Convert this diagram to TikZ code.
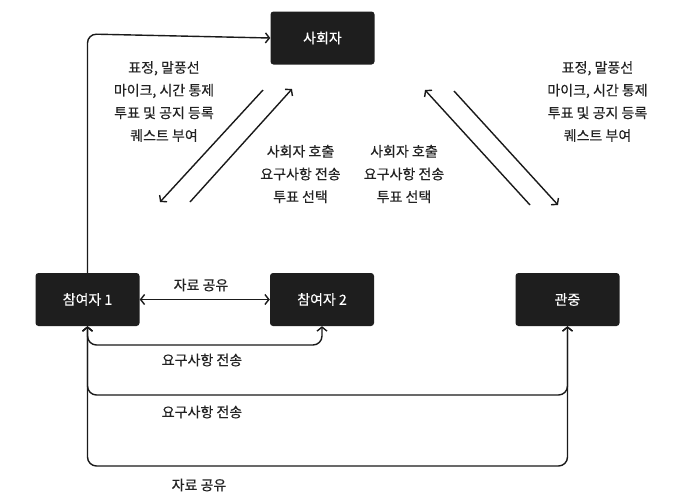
\documentclass[tikz,border=0pt]{standalone}
\usepackage{fontspec}
\setmainfont{Noto Sans CJK KR}
\newfontfamily\medfont{Noto Sans CJK KR}[FakeBold=0.35]
\usetikzlibrary{arrows.meta}
\definecolor{boxc}{HTML}{1E1E1E}
\definecolor{linec}{HTML}{1A1A1A}
\definecolor{txtc}{HTML}{222222}
\tikzset{
  actor/.style={fill=boxc, draw=none, rounded corners=3pt, minimum width=104pt, minimum height=53pt, inner sep=0pt, text=white, font=\medfont\fontsize{14}{16}\selectfont},
  lbl/.style={text=txtc, align=center, inner sep=0pt, font=\medfont\fontsize{14}{22.7}\selectfont},
  conn/.style={draw=linec, line width=1.4pt, rounded corners=9pt, arrows={-Straight Barb[length=4pt,width=10pt,line width=1.4pt]}},
  conn2/.style={conn, arrows={Straight Barb[length=4pt,width=10pt,line width=1.4pt]-Straight Barb[length=4pt,width=10pt,line width=1.4pt]}}
}
\begin{document}
\begin{tikzpicture}[x=1pt,y=-1pt]
\useasboundingbox[fill=white] (0,0) rectangle (676,496);
% nodes
\node[actor] (mod) at (322.5,38) {사회자};
\node[actor] (p1) at (87.5,299.5) {참여자 1};
\node[actor] (p2) at (322,299.5) {참여자 2};
\node[actor] (aud) at (567.5,299.5) {관중};
% helper coordinates
\coordinate (ytop) at (0,34);
\coordinate (y1) at (0,345);
\coordinate (y2) at (0,395);
\coordinate (y3) at (0,466);
\coordinate (a1s) at (263,90);  \coordinate (a1e) at (160,202);
\coordinate (a2s) at (190,202); \coordinate (a2e) at (292,89);
\coordinate (a3s) at (530,205); \coordinate (a3e) at (425,90);
\coordinate (a4s) at (454,91);  \coordinate (a4e) at (558,205);
% connectors
\draw[conn] (p1.north) -- (p1.north |- ytop) -- (mod.west);
\draw[conn2, rounded corners=0pt] (p1.east) -- (p2.west);
\draw[conn2] (p1.south) -- (p1.south |- y1) -- (p2.south |- y1) -- (p2.south);
\draw[conn2] (p1.south) -- (p1.south |- y2) -- (aud.south |- y2) -- (aud.south);
\draw[conn2] (p1.south) -- (p1.south |- y3) -- (aud.south |- y3) -- (aud.south);
\draw[conn] (a1s) -- (a1e);
\draw[conn] (a2s) -- (a2e);
\draw[conn] (a3s) -- (a3e);
\draw[conn] (a4s) -- (a4e);
% labels
\node[lbl] (tl) at (164,101.5) {표정, 말풍선\\마이크, 시간 통제\\투표 및 공지 등록\\퀘스트 부여};
\node[lbl] (tr) at (597.5,101.5) {표정, 말풍선\\마이크, 시간 통제\\투표 및 공지 등록\\퀘스트 부여};
\node[lbl] (ml) at (300.5,174) {사회자 호출\\요구사항 전송\\투표 선택};
\node[lbl] (mr) at (404,174) {사회자 호출\\요구사항 전송\\투표 선택};
\node[lbl] (s1) at (201,285) {자료 공유};
\node[lbl] (r1) at (202,360) {요구사항 전송};
\node[lbl] (r2) at (202,412) {요구사항 전송};
\node[lbl] (s2) at (199,485) {자료 공유};
\end{tikzpicture}
\end{document}
